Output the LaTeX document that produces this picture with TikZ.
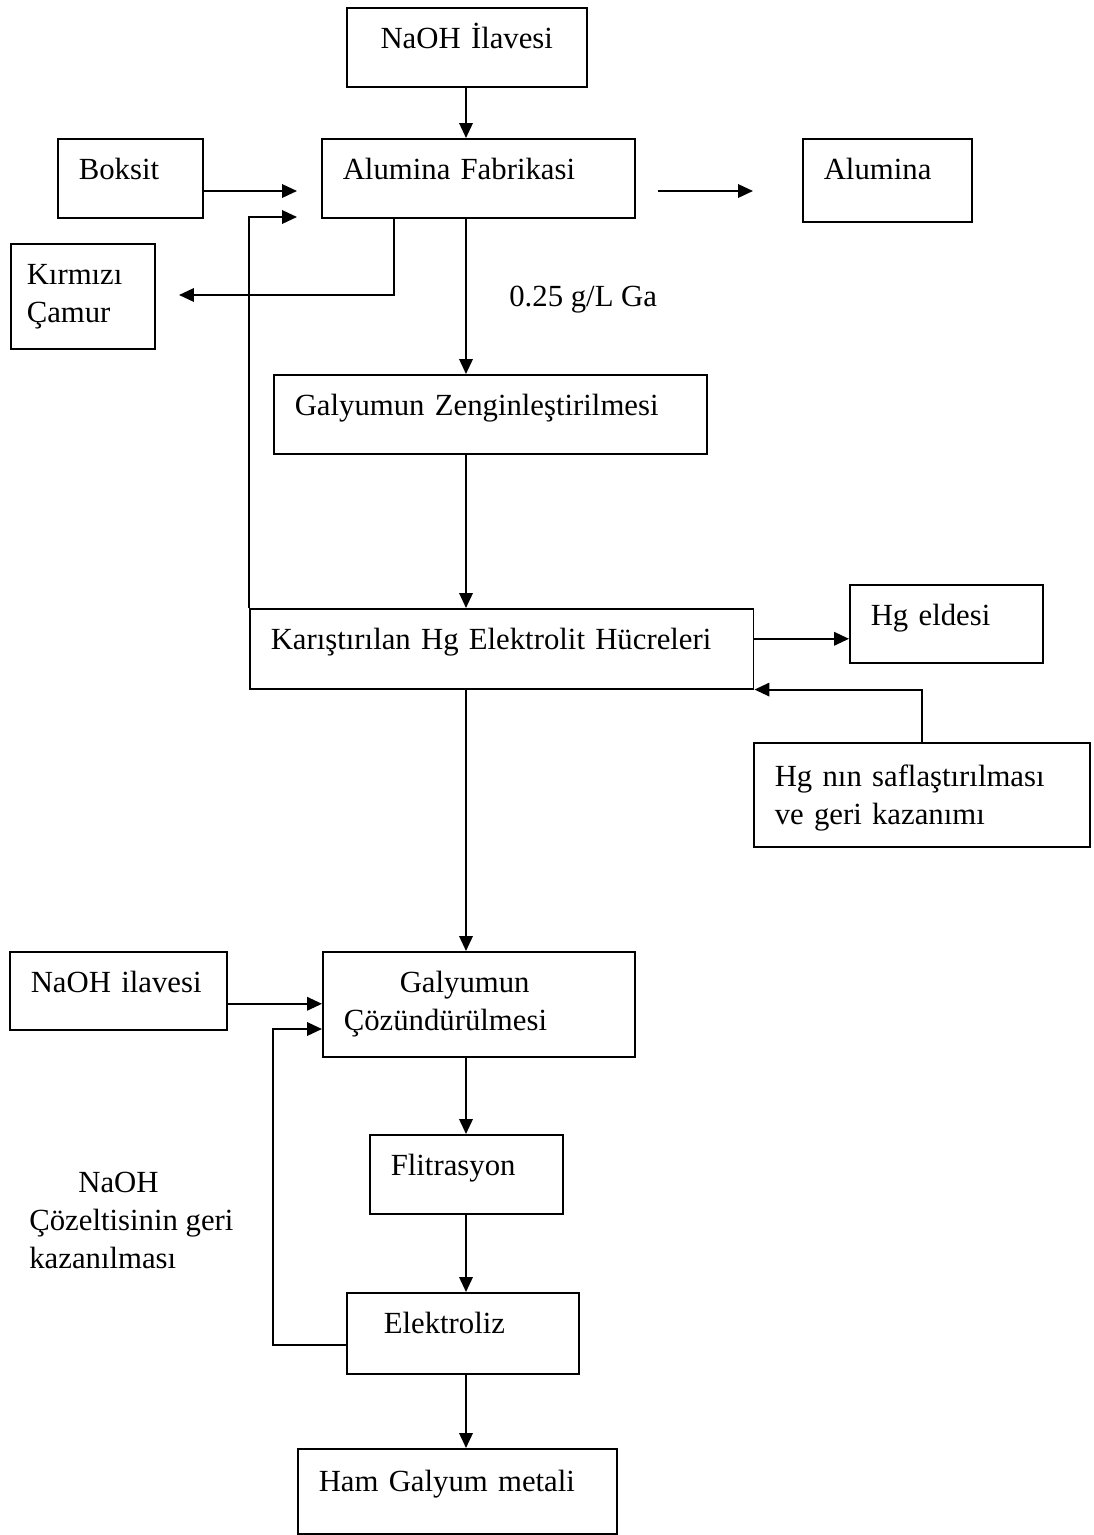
\documentclass[tikz,border=0pt]{standalone}
\usepackage{fontspec}
\setmainfont{Liberation Serif}
\usepackage{tikz}
\usetikzlibrary{arrows.meta}

\tikzset{
  kutu/.style={draw,line width=0.9pt,anchor=north west,align=left,
    inner xsep=0.42cm,inner ysep=0pt,text height=0.82cm,text depth=0.76cm},
  ok/.style={line width=1.15pt,-{Triangle[length=0.3cm,width=0.27cm]}},
  cizgi/.style={line width=1pt}
}

\begin{document}
\begin{tikzpicture}[x=0.02cm,y=-0.02cm,font=\fontsize{17.5}{21.5}\selectfont]
        \useasboundingbox (0,0) rectangle (1094,1535);
        % kutular
        \node[kutu,text width=3.96cm,align=center] (naoh1) at (346,7) {NaOH İlavesi};
        \node[kutu,text width=2.06cm] (boksit) at (57,138) {Boksit};
        \node[kutu,text width=5.42cm] (fabrika) at (321,138) {Alumina Fabrikasi};
        \node[kutu,text width=2.54cm,text depth=0.84cm] (alumina) at (802,138) {Alumina};
        \node[kutu,text width=2.24cm,inner xsep=0.32cm,text depth=1.28cm] (camur) at (10,243) {Kırmızı\\Çamur};
        \node[kutu,text width=7.82cm] (zengin) at (273,374) {Galyumun Zenginleştirilmesi};
        \node[kutu,text width=9.24cm,text depth=0.78cm] (hucre) at (249,608) {Karıştırılan Hg Elektrolit Hücreleri};
        \node[kutu,text width=3.02cm,text depth=0.74cm] (hgelde) at (849,584) {Hg eldesi};
        \node[kutu,text width=5.88cm,text height=0.88cm,text depth=1.2cm] (hgsaf) at (753,742) {Hg nın saflaştırılması\\ve geri kazanımı};
        \node[kutu,text width=3.50cm,text depth=0.74cm] (naoh2) at (9,951) {NaOH ilavesi};
        \node[kutu,text width=5.40cm,text depth=1.28cm] (cozun) at (322,951) {\hspace*{1.12cm}Galyumun\\Çözündürülmesi};
        \node[kutu,text width=3.02cm] (filtre) at (369,1134) {Flitrasyon};
        \node[kutu,text width=3.80cm,text depth=0.80cm] (elektroliz) at (346,1292) {\hspace*{0.32cm}Elektroliz};
        \node[kutu,text width=5.54cm,text height=0.86cm,text depth=0.84cm] (ham) at (297,1448) {Ham Galyum metali};
        % etiketler
        \node[anchor=west,inner sep=0pt] (ga) at (509,300) {0.25 g/L Ga};
        \node[anchor=north west,align=left,inner sep=0pt] (geri) at (29,1172) {\hspace*{0.98cm}NaOH\\Çözeltisinin geri\\kazanılması};
        % baglantilar
        \coordinate (orta) at (466,0);
        \coordinate (b1) at (297,191);
        \coordinate (r1) at (297,217);
        \coordinate (a1) at (658,191);
        \coordinate (a2) at (753,191);
        \coordinate (c1) at (179,295);
        \coordinate (d1) at (273,1029);
        \draw[ok] (naoh1.south -| orta) -- (fabrika.north -| orta);
        \draw[ok] (boksit.east |- b1) -- (b1);
        \draw[ok] (hucre.north west) |- (r1);
        \draw[ok] (a1) -- (a2);
        \draw[ok] ([xshift=1.46cm]fabrika.south west) |- (c1);
        \draw[ok] (fabrika.south -| orta) -- (zengin.north -| orta);
        \draw[ok] (zengin.south -| orta) -- (hucre.north -| orta);
        \draw[ok] ([yshift=0.2cm]hucre.east) -- ([yshift=0.2cm]hucre.east -| hgelde.west);
        \draw[ok] (hgsaf.north) |- (hucre.south east);
        \draw[ok] (hucre.south -| orta) -- (cozun.north -| orta);
        \draw[ok] ([yshift=-0.26cm]naoh2.east) -- ([yshift=-0.26cm]naoh2.east -| cozun.west);
        \draw[ok] ([yshift=-0.23cm]elektroliz.west) -| (d1) -- (d1 -| cozun.west);
        \draw[ok] (cozun.south -| orta) -- (filtre.north -| orta);
        \draw[ok] (filtre.south -| orta) -- (elektroliz.north -| orta);
        \draw[ok] (elektroliz.south -| orta) -- (ham.north -| orta);
\end{tikzpicture}
\end{document}
